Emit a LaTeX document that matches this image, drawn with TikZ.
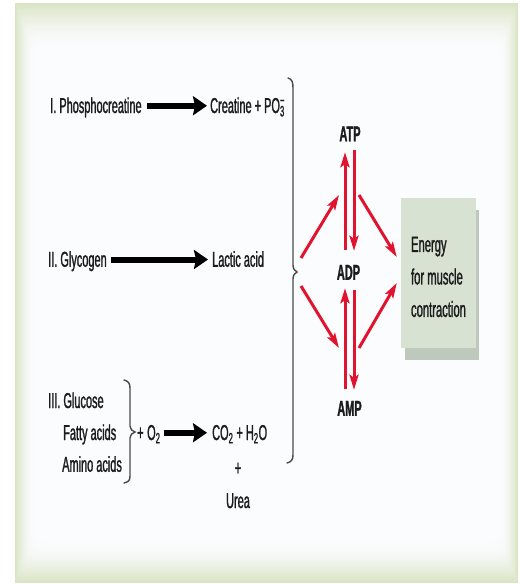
\documentclass[tikz,border=0pt]{standalone}
\usepackage{fontspec}
\setmainfont{Liberation Sans}[FakeStretch=0.51, FakeBold=1.2]
\usetikzlibrary{arrows.meta}

\definecolor{edgegreen}{HTML}{DAE4C4}
\definecolor{panelwhite}{HTML}{FBFCFE}
\definecolor{ink}{HTML}{1C1C1C}
\definecolor{arrowred}{HTML}{E0142E}
\definecolor{boxfill}{HTML}{D8E2D2}
\definecolor{boxshadow}{HTML}{BEC8BC}
\definecolor{bracegray}{HTML}{4A4A4A}

\begin{document}
\begin{tikzpicture}[x=1pt,y=-1pt,
  lbl/.style={inner sep=0pt, text=ink, font=\fontsize{21.5}{25}\selectfont,
              text height=15.5pt, text depth=1pt, anchor=west},
  clbl/.style={lbl, anchor=center},
  nuc/.style={inner sep=0pt, text=ink, font=\fontsize{21.5}{25}\selectfont\bfseries,
              text height=15.5pt, text depth=0pt},
  blackarrow/.style={draw=black, line width=6pt,
              -{Stealth[length=14pt,width=19pt,inset=2pt]}},
  redarrow/.style={draw=arrowred, line width=3pt,
              -{Stealth[length=15pt,width=9pt,inset=3pt]}},
  bracket/.style={draw=bracegray, line width=1.4pt, line cap=round},
  energybox/.style={fill=boxfill, minimum width=75pt, minimum height=150pt,
              inner sep=0pt, align=left, text=ink,
              font=\fontsize{22}{32.5}\selectfont}
]
\useasboundingbox (0,0) rectangle (520,584);

% panel with a soft green rim fading into the white interior
\fill[edgegreen] (15,3) rectangle (518,583);
\foreach \i in {1,...,40}{
  \pgfmathsetmacro\f{\i/40}
  \pgfmathtruncatemacro\p{100*sin(90*\f)}
  \fill[panelwhite!\p!edgegreen, rounded corners=14*\f pt]
    (15+20*\f, 3+46*\f) rectangle (518-18*\f, 583-43*\f);
}

% I. phosphocreatine
\node[lbl] (phos)  at (50,105.75)  {I. Phosphocreatine};
\node[lbl] (creat) at (210,105.75) {Creatine + PO\rlap{\textsubscript{3}}\textsuperscript{−}};
\draw[blackarrow, shorten <=5pt, shorten >=3pt] (phos.east) -- (creat.west);

% II. glycogen
\node[lbl] (glyc)   at (48,259.5)  {II. Glycogen};
\node[lbl] (lactic) at (212,259.5) {Lactic acid};
\draw[blackarrow, shorten <=4pt, shorten >=4pt] (glyc.east) -- (lactic.west);

% III. oxidation of fuels
\node[lbl] (gluc)  at (48,400.75) {III. Glucose};
\node[lbl] (fatty) at (63,432.75) {Fatty acids};
\node[lbl] (amino) at (62,464.5)  {Amino acids};
\draw[bracket] (124,380) .. controls (128,381) and (130,383) .. (130,388)
  -- (130,426) .. controls (130,429) and (132,431) .. (135,432)
  .. controls (132,433) and (130,435) .. (130,438)
  -- (130,476) .. controls (130,481) and (128,482) .. (124,483);
\node[lbl] (oxy) at (137,432.75) {+\,O\textsubscript{2}};
\node[lbl] (co2) at (212,432.75) {CO\textsubscript{2} + H\textsubscript{2}O};
\draw[blackarrow, shorten <=3pt, shorten >=5pt] (oxy.east) -- (co2.west);
\node[clbl] (plus) at (238,468)    {+};
\node[clbl] (urea) at (238,500.75) {Urea};

% brace gathering the three sources
\draw[bracket] (288,78) .. controls (292,79) and (293,82) .. (293,88)
  -- (293,265) .. controls (293,269) and (295,271) .. (297,272)
  .. controls (295,273) and (293,275) .. (293,279)
  -- (293,455) .. controls (293,460) and (291,462) .. (287,463);
\coordinate (tip) at (297,272);

% adenine nucleotides
\node[nuc] (atp) at (350,133.5) {ATP};
\node[nuc] (adp) at (348.5,272) {ADP};
\node[nuc] (amp) at (349.5,408) {AMP};

% energy box with its shadow
\fill[boxshadow] (405,210) rectangle (479,360);
\node[energybox] (energy) at (438.5,273) {\rule{0pt}{23pt}Energy\\for muscle\\contraction};

% vertical interconversions
\draw[redarrow] ([shift={(-3.5pt,14.25pt)}]adp.north) -- ([shift={(-5pt,-10.75pt)}]atp.south);
\draw[redarrow] ([shift={(4pt,-8.75pt)}]atp.south) -- ([shift={(5.5pt,13.25pt)}]adp.north);
\draw[redarrow] ([shift={(-4.5pt,11.25pt)}]amp.north) -- ([shift={(-3.5pt,-8.25pt)}]adp.south);
\draw[redarrow] ([shift={(5.5pt,-10.25pt)}]adp.south) -- ([shift={(4.5pt,10.25pt)}]amp.north);

% fuel supply and energy delivery
\coordinate (lu) at (339,195);
\coordinate (ld) at (339,348);
\coordinate (ru) at (359,195);
\coordinate (rd) at (359,348);
\draw[redarrow] ([shift={(4pt,14pt)}]tip) -- (lu);
\draw[redarrow] ([shift={(4pt,-14pt)}]tip) -- (ld);
\draw[redarrow] (ru) -- ([shift={(-4pt,16pt)}]energy.west);
\draw[redarrow] (rd) -- ([shift={(-4pt,-10pt)}]energy.west);
\end{tikzpicture}
\end{document}
